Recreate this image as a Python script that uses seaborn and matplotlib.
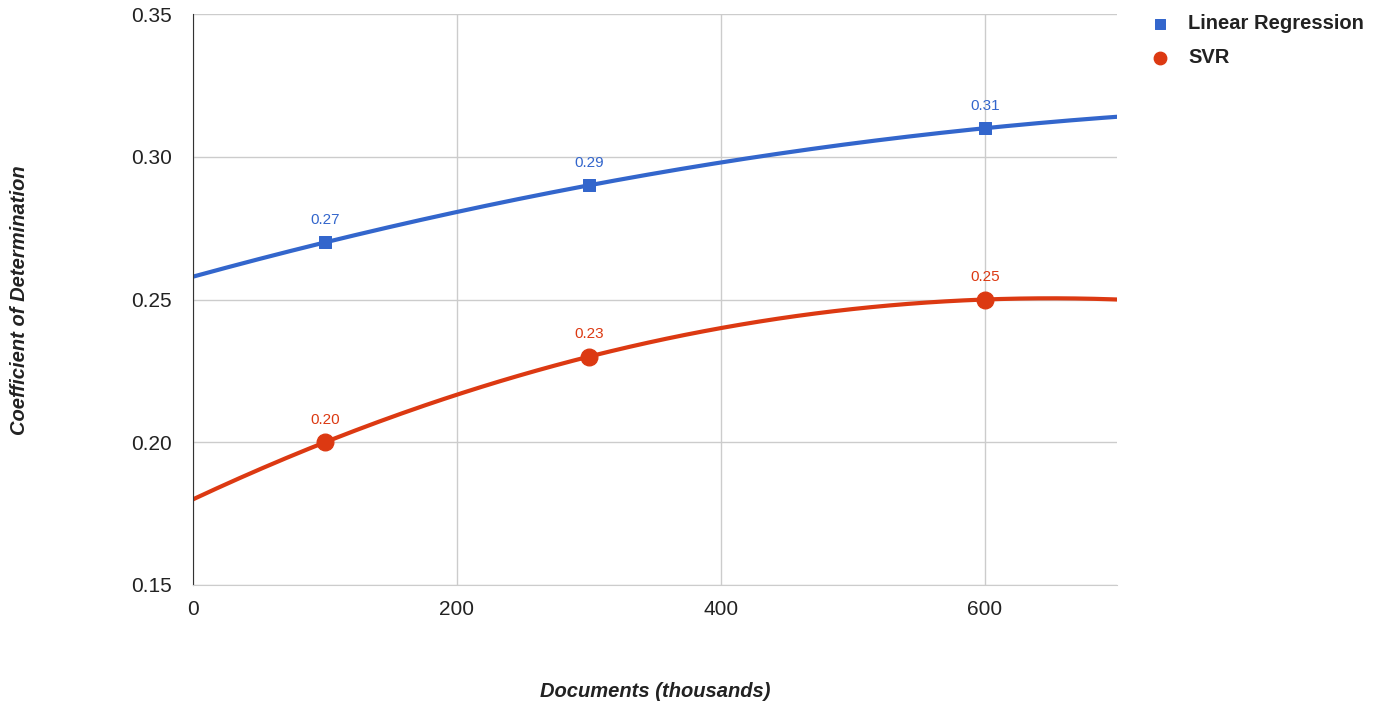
import numpy as np
import matplotlib
matplotlib.use("Agg")
import matplotlib.pyplot as plt
import seaborn as sns

docs = [100, 300, 600]
linear_regression = [0.27, 0.29, 0.31]
svr = [0.20, 0.23, 0.25]
x_ticks = [0, 200, 400, 600]
y_ticks = [0.15, 0.20, 0.25, 0.30, 0.35]

sns.set_style("white")
plt.rcParams["font.family"] = ["Liberation Sans", "DejaVu Sans"]

blue = "#3366cc"
red = "#dc3912"

fig = plt.figure(figsize=(13.87, 7.05), dpi=100)
ax = fig.add_axes([193 / 1387, 120 / 705, 924 / 1387, 571 / 705])

xs = np.linspace(0, 700, 200)
series = [
    ("Linear Regression", linear_regression, blue, "s", 9),
    ("SVR", svr, red, "o", 12),
]
for name, vals, color, marker, msize in series:
    # polynomial trendline (degree 2) like the original chart
    coef = np.polyfit(docs, vals, 2)
    sns.lineplot(x=xs, y=np.polyval(coef, xs), ax=ax, color=color, lw=3, legend=False)
    sns.scatterplot(x=docs, y=vals, ax=ax, color=color, marker=marker, s=msize ** 2,
                    edgecolor=color, zorder=5, label=name)
    for xv, yv in zip(docs, vals):
        ax.annotate(f"{yv:.2f}", (xv, yv), xytext=(0, 11), textcoords="offset points",
                    ha="center", va="bottom", color=color, fontsize=11)

ax.set_xlim(0, 700)
ax.set_ylim(0.15, 0.35)
ax.set_xticks(x_ticks)
ax.set_yticks(y_ticks)
ax.set_yticklabels([f"{v:.2f}" for v in y_ticks])
ax.grid(True, color="#cccccc", lw=1)
ax.set_axisbelow(True)
for side in ["top", "right"]:
    ax.spines[side].set_visible(False)
ax.spines["left"].set_color("#333333")
ax.spines["bottom"].set_color("#cccccc")
ax.tick_params(axis="both", length=0, labelsize=15, colors="#222222")
ax.tick_params(axis="y", pad=15)
ax.tick_params(axis="x", pad=11)

ax.set_xlabel("Documents (thousands)", fontsize=14.5, fontweight="bold", style="italic",
              color="#222222", labelpad=45)
fig.text(20 / 1387, 1 - 300 / 705, "Coefficient of Determination", rotation=90,
         ha="center", va="center", fontsize=14.5, fontweight="bold", style="italic",
         color="#222222")

leg = ax.legend(loc="upper left", bbox_to_anchor=(1.005, 1.032), frameon=False,
                prop={"weight": "bold", "size": 14.5}, handletextpad=0.4,
                labelspacing=0.75, markerscale=0.75)
for t in leg.get_texts():
    t.set_color("#222222")

fig.savefig("out.png", dpi=100)
